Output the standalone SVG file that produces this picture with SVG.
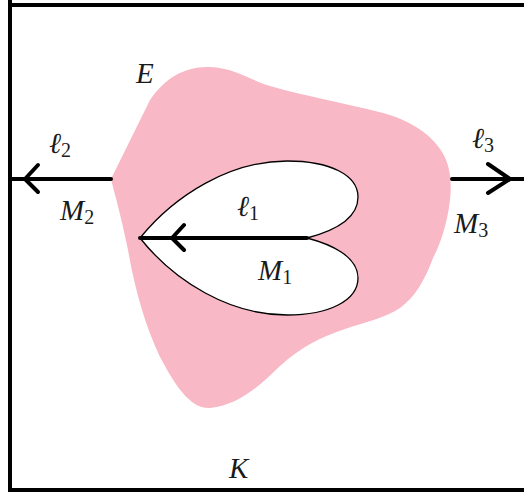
<svg xmlns="http://www.w3.org/2000/svg" width="524" height="495" viewBox="0 0 524 495">
<style>
.lbl{font-family:"Liberation Serif","DejaVu Serif",serif;font-style:italic;font-size:29px;fill:#1a1a1a}
.sub{font-style:normal;font-size:20px}
.ln{stroke:#000;stroke-width:4;fill:none;stroke-linecap:round;stroke-linejoin:round}
</style>
<rect width="524" height="495" fill="#fff"/>
<path d="M10,0 V490 H524 M10,5 H524" fill="none" stroke="#000" stroke-width="4"/>
<g id="E">
<path d="M111,179 L150,100 C165,78 185,66 210,67 C235,68 250,80 270,86 C300,95 340,102 383,113 C410,120 432,135 442,152 C450,165 452,180 450,200 C447,225 440,245 433,258 C425,280 415,297 400,308 C385,318 365,322 345,329 C320,337 300,348 280,366 C260,385 240,405 210,408 C190,409 175,385 160,357 C145,325 135,290 128,250 C122,220 115,195 111,179 Z" fill="#F8B8C6"/>
<text class="lbl" x="136" y="83">E</text>
</g>
<g id="M1">
<path d="M140,238 C175,195 230,161 287,161 C330,161 358,175 358,197 C358,220 330,232 307,238 C330,244 358,256 358,278 C358,300 330,315 287,315 C230,315 175,282 140,238 Z" fill="#fff" stroke="#000" stroke-width="1.3"/>
<text class="lbl" x="258" y="280">M<tspan class="sub" dy="4">1</tspan></text>
</g>
<g id="M2"><text class="lbl" x="60" y="220">M<tspan class="sub" dy="4">2</tspan></text></g>
<g id="M3"><text class="lbl" x="454" y="233">M<tspan class="sub" dy="4">3</tspan></text></g>
<g id="K"><text class="lbl" x="229" y="478">K</text></g>
<g id="connectors">
<path class="ln" d="M10,179 H111 M38,165 L25,179 L38,192"/>
<path class="ln" d="M452,179 H524 M488,164 L510,179 L488,193"/>
<path class="ln" d="M140,238 H307 M184,225 L172,238 L184,250"/>
<text class="lbl" x="49" y="153">ℓ<tspan class="sub" dy="4">2</tspan></text>
<text class="lbl" x="472" y="148">ℓ<tspan class="sub" dy="4">3</tspan></text>
<text class="lbl" x="237" y="216">ℓ<tspan class="sub" dy="4">1</tspan></text>
</g>
</svg>
